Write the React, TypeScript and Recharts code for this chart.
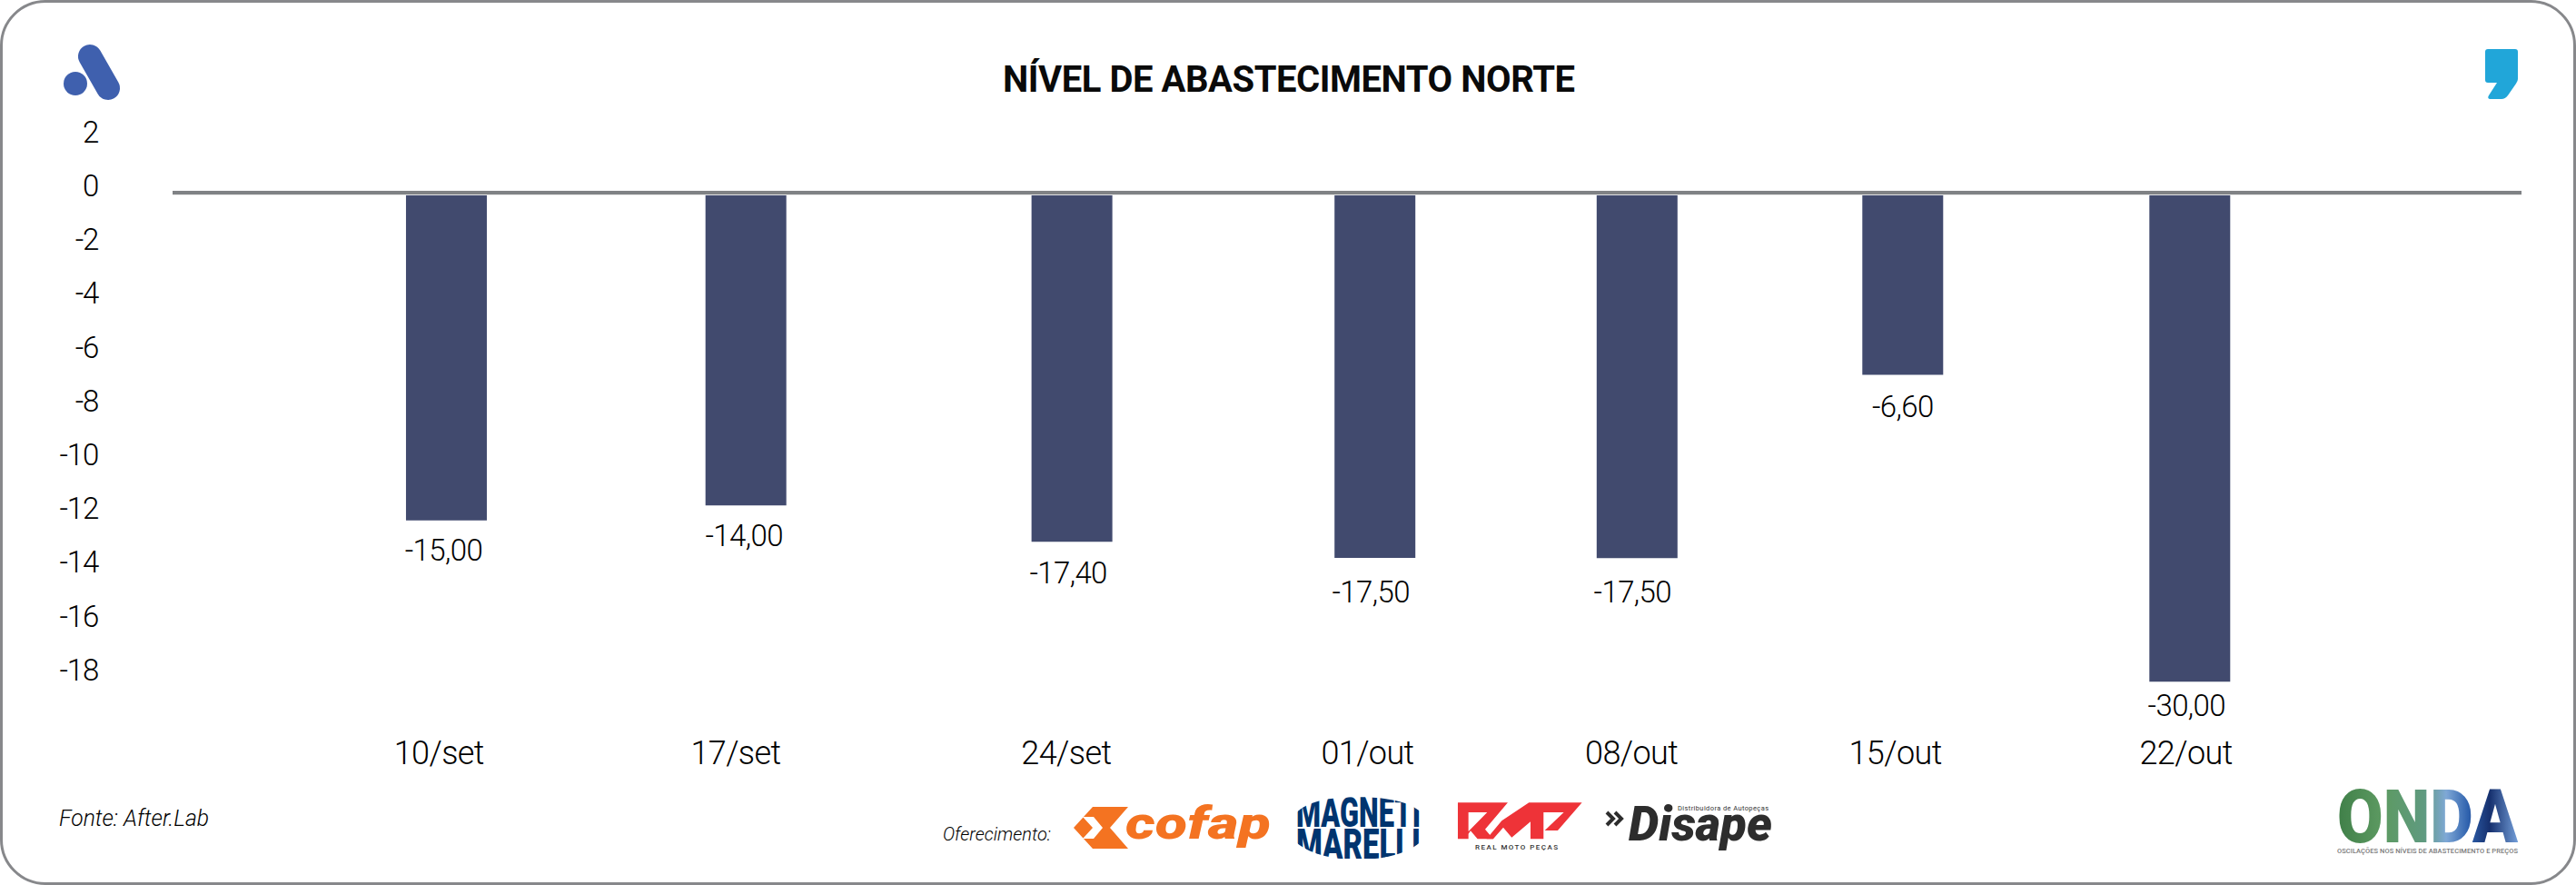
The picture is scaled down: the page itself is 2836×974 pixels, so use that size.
import React from "react";
import { BarChart, Bar, XAxis, YAxis, ReferenceLine, LabelList } from "recharts";

// Week labels and where each week sits along the horizontal axis (0-100 scale)
const categories = ["10/set", "17/set", "24/set", "01/out", "08/out", "15/out", "22/out"];
const weekPositions = [11.65, 24.4, 38.28, 51.18, 62.34, 73.65, 85.87];
// Bar heights as read against the value axis
const barValues = [-12.19, -11.63, -12.98, -13.58, -13.59, -6.77, -18.18];
// Values printed under the bars
const printedValues = [-15.0, -14.0, -17.4, -17.5, -17.5, -6.6, -30.0];
const yTicks = [2, 0, -2, -4, -6, -8, -10, -12, -14, -16, -18];

const rows = categories.map((category, i) => ({
  category,
  position: weekPositions[i],
  value: barValues[i],
  printed: printedValues[i],
}));

const FONT = "Roboto, sans-serif";
const INK = "#000";
const LINE = "#808285";

const labelDx = [-3, -2, -4, -4.5, -5, 0, -3.5];
const labelDy = [44.5, 45, 46, 49, 49, 47, 38];
const xTickDx = [-8, -11, -6, -8, -6, -8, -4];

const YTick = ({ y, payload }: any) => (
  <text x={108} y={y + 4} textAnchor="end" fontFamily={FONT} fontWeight={300} fontSize={33} letterSpacing={-1.2} fill={INK}>
    {String(payload.value)}
  </text>
);

const XTick = ({ x, y, payload, index }: any) => (
  <text x={x + xTickDx[index]} y={y + 29} textAnchor="middle" fontFamily={FONT} fontWeight={300} fontSize={36} letterSpacing={-0.6} fill={INK}>
    {categories[index] ?? String(payload.value)}
  </text>
);

const BarValueLabel = ({ x, y, width, height, index }: any) => {
  const end = Math.max(y, y + height);
  return (
    <text
      x={x + width / 2 + labelDx[index]}
      y={end + labelDy[index]}
      textAnchor="middle"
      fontFamily={FONT}
      fontWeight={300}
      fontSize={33}
      letterSpacing={-0.6}
      fill={INK}
    >
      {printedValues[index].toFixed(2).replace(".", ",")}
    </text>
  );
};

const Logos = () => (
  <svg width={2836} height={974} style={{ position: "absolute", left: 0, top: 0, pointerEvents: "none" }}>
    <defs>
      <linearGradient id="onda" x1="0" x2="1" y1="0" y2="0">
        <stop offset="0" stopColor="#3f7f48" />
        <stop offset="0.25" stopColor="#5d9a62" />
        <stop offset="0.48" stopColor="#5f9a80" />
        <stop offset="0.6" stopColor="#7fa8d6" />
        <stop offset="0.72" stopColor="#2f62ae" />
        <stop offset="0.84" stopColor="#16306e" />
        <stop offset="1" stopColor="#76a2dc" />
      </linearGradient>
      <clipPath id="mm">
        <path
          transform="translate(1420,870) scale(0.3333)"
          d="M20,75 C60,35 130,22 225,22 C320,22 390,35 432,70 V170 C390,205 320,228 225,228 C130,228 60,205 20,170 Z"
        />
      </clipPath>
    </defs>

    {/* top-left mark */}
    <ellipse cx={83} cy={92} rx={13} ry={13} fill="#3f60ae" />
    <line x1={99} y1={62} x2={119} y2={97} stroke="#3f60ae" strokeWidth={26} strokeLinecap="round" />

    {/* top-right mark */}
    <path
      d="M2739,54 H2769 Q2772,54 2772,57 V87 Q2772,89 2770,92 L2761,105 Q2758,109 2754,109 H2741 Q2738,108 2740,105 L2749,91 H2739 Q2736,91 2736,88 V57 Q2736,54 2739,54 Z"
      fill="#21a6d9"
    />

    <text x={1104} y={101} fontFamily={FONT} fontWeight={700} fontSize={40} textLength={630} lengthAdjust="spacing" fill="#0a0a0a">
      NÍVEL DE ABASTECIMENTO NORTE
    </text>

    <text x={65} y={909} fontFamily={FONT} fontStyle="italic" fontWeight={300} fontSize={25} textLength={165} lengthAdjust="spacingAndGlyphs" fill={INK}>
      Fonte: After.Lab
    </text>
    <text x={1038} y={925} fontFamily={FONT} fontStyle="italic" fontWeight={300} fontSize={21} textLength={119} lengthAdjust="spacingAndGlyphs" fill={INK}>
      Oferecimento:
    </text>

    {/* Cofap */}
    <path d="M1203,888 H1242 L1222,911 L1242,934 H1203 L1182,911 Z" fill="#f47321" />
    <path d="M1192,899 H1204 L1214,911 L1204,923 H1192 L1203,911 Z" fill="#fff" />
    <text x={1239} y={923} fontFamily={FONT} fontStyle="italic" fontWeight={900} fontSize={50} textLength={160} lengthAdjust="spacingAndGlyphs" fill="#f47321">
      cofap
    </text>

    {/* Magneti Marelli */}
    <g clipPath="url(#mm)">
      <text x={1427} y={909.5} fontFamily={FONT} fontWeight={900} fontSize={46} textLength={137} lengthAdjust="spacingAndGlyphs" fill="#00356f">
        MAGNETI
      </text>
      <text x={1427} y={945} fontFamily={FONT} fontWeight={900} fontSize={46} textLength={137} lengthAdjust="spacingAndGlyphs" fill="#00356f">
        MARELLI
      </text>
    </g>

    {/* RMP */}
    <g transform="translate(1420,870) scale(0.3333)" fill="#ee3338">
      <path fillRule="evenodd" d="M555,40 H720 L645,128 L672,160 H620 L597,133 L590,143 V160 H555 Z M590,72 H652 L590,135 Z" />
      <path fillRule="evenodd" d="M790,40 H965 L885,132 H838 V160 H795 V103 L733,155 L705,122 L672,160 H650 L700,100 Z M838,72 H905 L842,132 H838 Z" />
    </g>
    <text x={1624} y={935} fontFamily={FONT} fontSize={8} fontWeight={500} textLength={91} lengthAdjust="spacing" fill="#333">
      REAL MOTO PEÇAS
    </text>

    {/* Disape */}
    <path d="M1769,894 L1776,901 L1769,908 M1778,894 L1785,901 L1778,908" fill="none" stroke="#2d2d2d" strokeWidth={4} />
    <text x={1793} y={925} fontFamily={FONT} fontStyle="italic" fontWeight={900} fontSize={54} textLength={158} lengthAdjust="spacingAndGlyphs" fill="#2d2d2d">
      Disape
    </text>
    <text x={1847} y={892} fontFamily={FONT} fontSize={7.5} textLength={100} lengthAdjust="spacing" fill="#333">
      Distribuidora de Autopeças
    </text>

    {/* ONDA */}
    <text x={2573} y={927} fontFamily={FONT} fontWeight={900} fontSize={82} textLength={199} lengthAdjust="spacingAndGlyphs" fill="url(#onda)">
      ONDA
    </text>
    <text x={2573} y={939} fontFamily={FONT} fontSize={7.5} fontWeight={500} textLength={199} lengthAdjust="spacing" fill="#7a7a7a">
      OSCILAÇÕES NOS NÍVEIS DE ABASTECIMENTO E PREÇOS
    </text>
  </svg>
);

export default function App() {
  return (
    <div style={{ position: "absolute", left: 0, top: 0, width: 2836, height: 974, background: "#fff", overflow: "hidden" }}>
      <div
        style={{
          position: "absolute",
          left: 0,
          top: 0,
          width: 2836,
          height: 974,
          boxSizing: "border-box",
          border: "3px solid #87888b",
          borderRadius: 50,
        }}
      />
      <div style={{ position: "absolute", left: 0, top: 0 }}>
        <BarChart
          width={2836}
          height={974}
          data={rows}
          margin={{ top: 123.2, right: 60, bottom: 110, left: 100 }}
          barSize={89}
        >
          <XAxis
            dataKey="position"
            type="number"
            domain={[0, 100]}
            ticks={weekPositions}
            height={60}
            axisLine={false}
            tickLine={false}
            tick={<XTick />}
            interval={0}
          />
          <YAxis
            width={90}
            type="number"
            domain={[-20, 3]}
            ticks={yTicks}
            axisLine={false}
            tickLine={false}
            tick={<YTick />}
            interval={0}
          />
          <Bar dataKey="value" fill="#414a6e" isAnimationActive={false}>
            <LabelList content={<BarValueLabel />} />
          </Bar>
          <ReferenceLine y={-0.085} stroke="#e4e4e5" strokeWidth={1} />
          <ReferenceLine y={0} stroke={LINE} strokeWidth={4} />
        </BarChart>
      </div>
      <Logos />
    </div>
  );
}
